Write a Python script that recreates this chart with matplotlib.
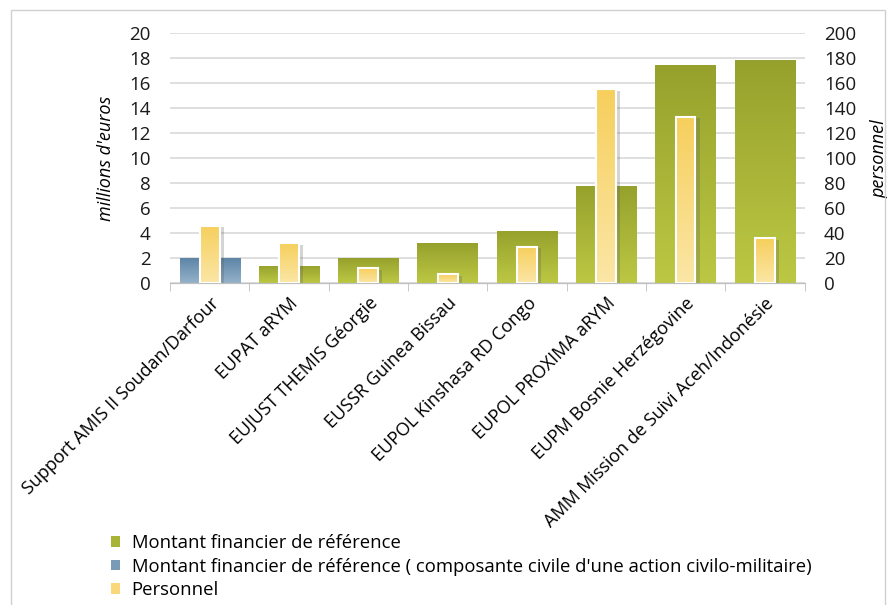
import numpy as np
import matplotlib
matplotlib.use("Agg")
import matplotlib.pyplot as plt
from matplotlib.patches import Patch, Rectangle
from matplotlib.colors import LinearSegmentedColormap
import matplotlib.patheffects as pe

plt.rcParams['font.family'] = ['Open Sans', 'DejaVu Sans']

categories = ["Support AMIS II Soudan/Darfour", "EUPAT aRYM", "EUJUST THEMIS Géorgie",
              "EUSSR Guinea Bissau", "EUPOL Kinshasa RD Congo", "EUPOL PROXIMA aRYM",
              "EUPM Bosnie Herzégovine", "AMM Mission de Suivi Aceh/Indonésie"]
montant = [0, 1.4, 2.0, 3.2, 4.2, 7.8, 17.5, 17.9]
montant_civil = [2.0, 0, 0, 0, 0, 0, 0, 0]
personnel = [46, 32, 12, 7, 29, 155, 133, 36]

left_ticks = list(range(0, 21, 2))
right_ticks = list(range(0, 201, 20))

green_cm = LinearSegmentedColormap.from_list("g", ["#bcc843", "#96a12d"])
blue_cm = LinearSegmentedColormap.from_list("b", ["#95b2ca", "#5d85a6"])
yellow_cm = LinearSegmentedColormap.from_list("y", ["#fbe6a6", "#f6cf5c"])

fig = plt.figure(figsize=(8.9, 6.05), dpi=100)
ax = fig.add_axes([0.191, 0.532, 0.713, 0.413])
ax2 = ax.twinx()

x = np.arange(len(categories))
grad = np.linspace(0, 1, 256).reshape(-1, 1)


def gradient_bars(axis, bars, cmap, z):
    for b in bars:
        if b.get_height() <= 0:
            continue
        x0, y0 = b.get_x(), b.get_y()
        im = axis.imshow(grad, cmap=cmap, aspect='auto', origin='lower',
                         extent=[x0, x0 + b.get_width(), y0, y0 + b.get_height()],
                         zorder=z)
        im.set_clip_path(b)


wide = 0.76
g = ax.bar(x, montant, wide, color='none', edgecolor='none', zorder=2)
gradient_bars(ax, g, green_cm, 2.5)
bl = ax.bar(x, montant_civil, wide, color='none', edgecolor='none', zorder=2)
gradient_bars(ax, bl, blue_cm, 2.5)

narrow = 0.25
shadow = ax2.bar(x, personnel, narrow, color='none', edgecolor='none', zorder=2,
                 path_effects=[pe.SimplePatchShadow(offset=(3, -1), shadow_rgbFace='#555555', alpha=0.25)])
yb = ax2.bar(x, personnel, narrow, color='none', edgecolor='white', linewidth=1.5, zorder=4)
gradient_bars(ax2, yb, yellow_cm, 3)

ax.set_xlim(-0.5, len(categories) - 0.5)
ax.set_ylim(0, 20)
ax2.set_ylim(0, 200)
ax.set_yticks(left_ticks)
ax2.set_yticks(right_ticks)
ax.grid(axis='y', color='#d9d9d9', linewidth=1.2, zorder=0)
ax.set_axisbelow(True)

for a in (ax, ax2):
    for s in ('left', 'right', 'top'):
        a.spines[s].set_visible(False)
    a.spines['bottom'].set_color('#bfbfbf')
    a.tick_params(axis='y', length=0, labelsize=13.5, colors='#1a1a1a')

ax.set_xticks(np.arange(-0.5, len(categories), 1), minor=True)
ax.set_xticks(x)
ax.set_xticklabels(categories, rotation=45, ha='right', rotation_mode='anchor', fontsize=13)
ax.tick_params(axis='x', which='major', length=0, pad=8)
ax.tick_params(axis='x', which='minor', length=6, color='#bfbfbf')
ax.tick_params(axis='y', pad=14)
ax2.tick_params(axis='y', pad=14)

ax.set_ylabel("millions d'euros", fontstyle='italic', fontsize=13, labelpad=10)
ax2.set_ylabel("personnel", fontstyle='italic', fontsize=13, rotation=90, labelpad=10)

handles = [Patch(facecolor='#a9b437'), Patch(facecolor='#7a9bb8'), Patch(facecolor='#f8d878')]
labels = ["Montant financier de référence",
          "Montant financier de référence ( composante civile d'une action civilo-militaire)",
          "Personnel"]
fig.legend(handles, labels, loc='upper left', bbox_to_anchor=(0.125, 0.117), frameon=False,
           fontsize=13.3, handlelength=0.5, handleheight=0.5, handletextpad=0.6,
           labelspacing=0.3, borderaxespad=0, borderpad=0)

fig.patches.append(Rectangle((0.012, -0.02), 0.982, 1.003, transform=fig.transFigure,
                             fill=False, edgecolor='#d0d0d0', linewidth=1))

fig.savefig("out.png", dpi=100)
